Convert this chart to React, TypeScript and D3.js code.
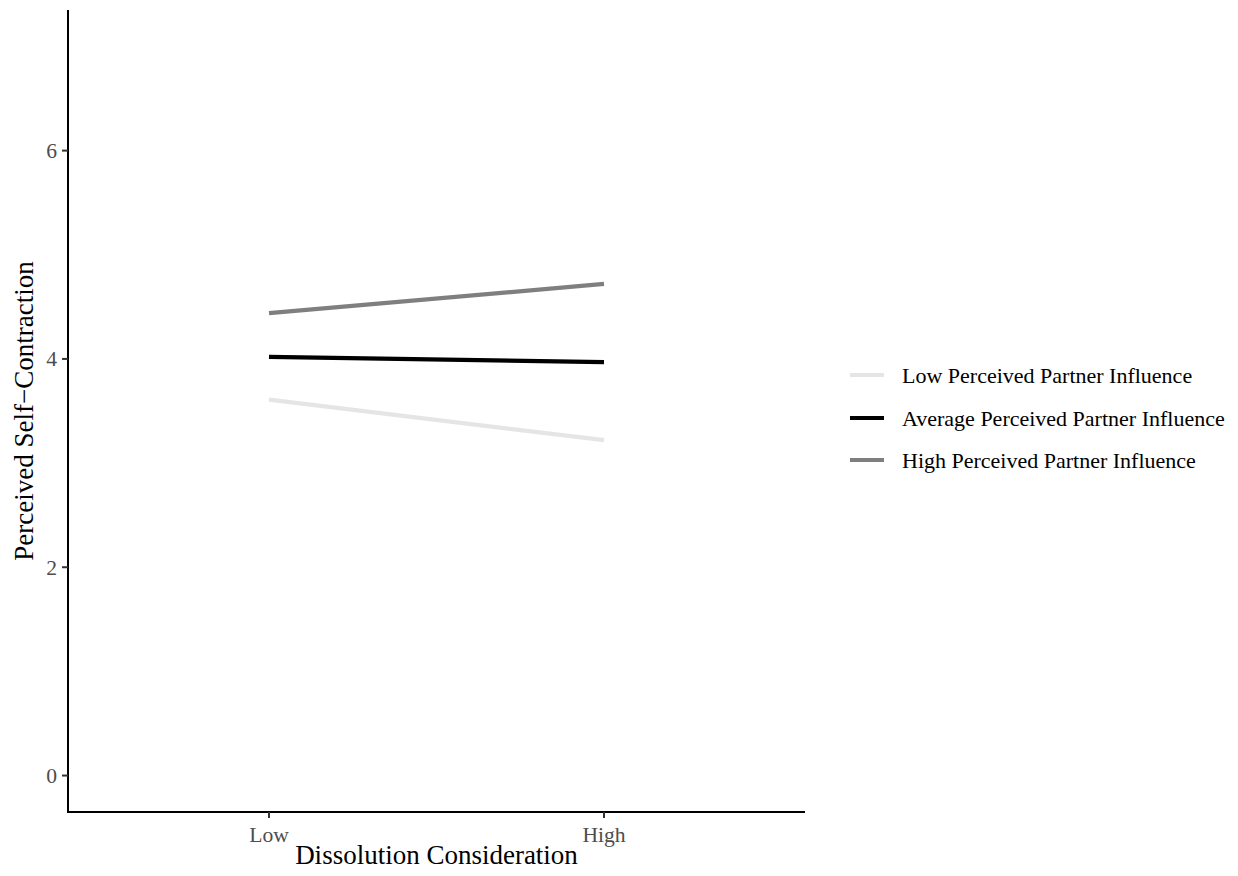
import React from "react";
import * as d3 from "d3";

const categories = ["Low", "High"];
const seriesNames = [
  "Low Perceived Partner Influence",
  "Average Perceived Partner Influence",
  "High Perceived Partner Influence",
];
const lowValues = [3.61, 3.22];
const avgValues = [4.02, 3.97];
const highValues = [4.44, 4.72];
const seriesColors = ["#e5e5e5", "#000000", "#7f7f7f"];
const yTicks = [0, 2, 4, 6];
const xTitle = "Dissolution Consideration";
const yTitle = "Perceived Self\u2212Contraction";

export default function App() {
  const W = 1238, H = 876;
  const left = 68, right = 805, top = 10, bottom = 812;
  const font = "'Liberation Serif', 'DejaVu Serif', serif";

  const y = d3.scaleLinear().domain([-0.35, 7.35]).range([bottom, top]);
  const xLin = d3.scaleLinear().domain([0.4, 2.6]).range([left, right]);
  const x = (c: string) => xLin(categories.indexOf(c) + 1);

  const series = [lowValues, avgValues, highValues];
  const line = d3
    .line<number>()
    .x((_, i) => x(categories[i]))
    .y((d) => y(d));

  const legendY = [375, 418, 460];

  return (
    <svg width={W} height={H} style={{ position: "absolute", left: 0, top: 0, background: "#fff" }}>
      <rect width={W} height={H} fill="#fff" />
      {series.map((s, i) => (
        <path key={i} d={line(s) || ""} fill="none" stroke={seriesColors[i]} strokeWidth={4.2} />
      ))}
      {/* axes */}
      <line x1={left} x2={left} y1={top} y2={bottom} stroke="#000" strokeWidth={2} />
      <line x1={left - 1} x2={right} y1={bottom} y2={bottom} stroke="#000" strokeWidth={2} />
      {yTicks.map((t) => (
        <g key={t}>
          <line x1={left - 6} x2={left} y1={y(t)} y2={y(t)} stroke="#333" strokeWidth={2} />
          <text x={left - 11} y={y(t)} dy="0.35em" textAnchor="end" fontFamily={font} fontSize={21.6} fill="#4d4d4d">
            {t}
          </text>
        </g>
      ))}
      {categories.map((c) => (
        <g key={c}>
          <line x1={x(c)} x2={x(c)} y1={bottom} y2={bottom + 6} stroke="#333" strokeWidth={2} />
          <text x={x(c)} y={bottom + 30} textAnchor="middle" fontFamily={font} fontSize={21.6} fill="#4d4d4d">
            {c}
          </text>
        </g>
      ))}
      <text x={(left + right) / 2} y={864} textAnchor="middle" fontFamily={font} fontSize={27} fill="#000">
        {xTitle}
      </text>
      <text
        transform={`translate(33, ${(top + bottom) / 2}) rotate(-90)`}
        textAnchor="middle"
        fontFamily={font}
        fontSize={27}
        fill="#000"
      >
        {yTitle}
      </text>
      {/* legend */}
      {seriesNames.map((n, i) => (
        <g key={n}>
          <line x1={850} x2={884} y1={legendY[i]} y2={legendY[i]} stroke={seriesColors[i]} strokeWidth={4.2} />
          <text x={902} y={legendY[i]} dy="0.35em" fontFamily={font} fontSize={22} fill="#000">
            {n}
          </text>
        </g>
      ))}
    </svg>
  );
}
